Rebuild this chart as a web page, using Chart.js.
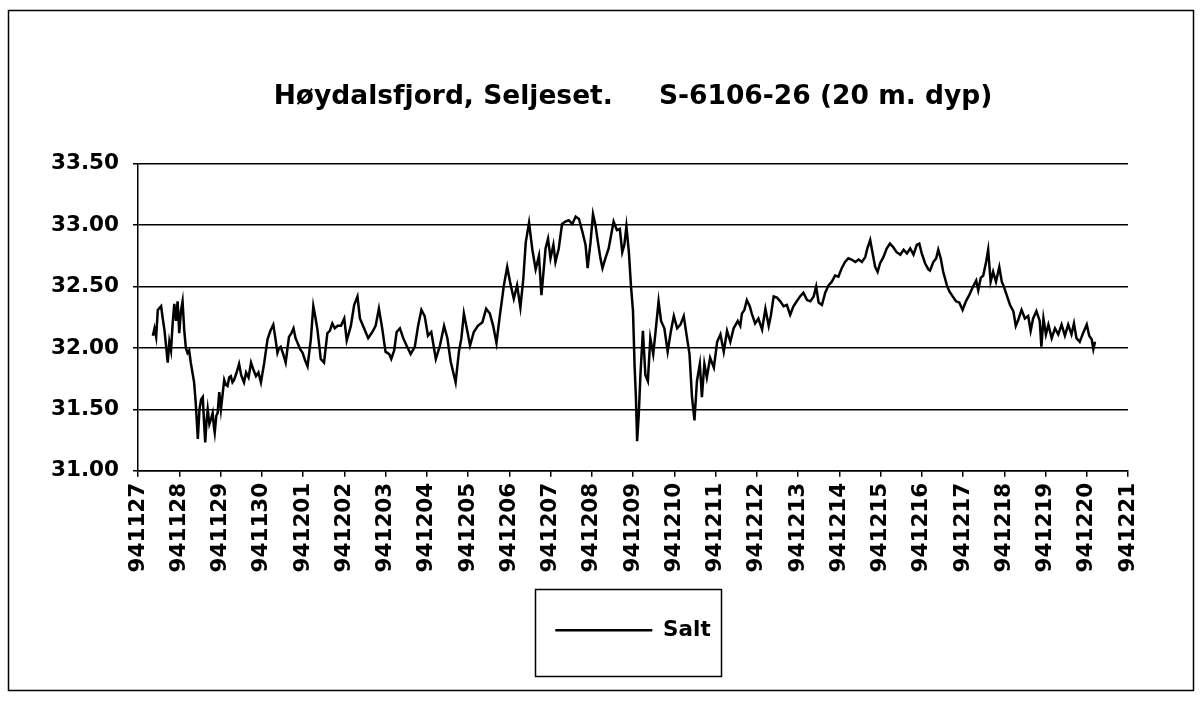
<!DOCTYPE html>
<html>
<head>
<meta charset="utf-8">
<title>Høydalsfjord, Seljeset</title>
<script src="https://cdn.jsdelivr.net/npm/chart.js@4.4.1/dist/chart.umd.min.js"></script>
<style>
  body { margin: 0; background: #fff; }
</style>
</head>
<body>
<canvas id="saltChart" width="1202" height="701"></canvas>
<script>
// day labels on the x axis (yymmdd), one per day from 941127
const dayLabels = ["941127", "941128", "941129", "941130", "941201", "941202", "941203",
  "941204", "941205", "941206", "941207", "941208", "941209", "941210", "941211",
  "941212", "941213", "941214", "941215", "941216", "941217", "941218", "941219",
  "941220", "941221"];

const yTicks = [31.0, 31.5, 32.0, 32.5, 33.0, 33.5];

// time of each reading, days after 941127 00:00
const days = [
  0.36, 0.40, 0.44, 0.48, 0.56, 0.60, 0.64, 0.68, 0.72, 0.76, 0.80, 0.84, 0.88, 0.92, 0.96,
  1.00, 1.04, 1.08, 1.12, 1.16, 1.20, 1.24, 1.28, 1.36, 1.40, 1.45, 1.49, 1.53, 1.57, 1.60,
  1.63, 1.66, 1.69, 1.73, 1.77, 1.81, 1.84, 1.86, 1.90, 1.93, 1.97, 2.01, 2.05, 2.09, 2.13,
  2.17, 2.21, 2.25, 2.29, 2.33, 2.39, 2.45, 2.50, 2.57, 2.62, 2.68, 2.74, 2.80, 2.86, 2.92,
  2.98, 3.06, 3.14, 3.21, 3.28, 3.33, 3.38, 3.42, 3.46, 3.52, 3.58, 3.66, 3.72, 3.77, 3.82,
  3.87, 3.93, 3.99, 4.05, 4.11, 4.19, 4.25, 4.30, 4.35, 4.43, 4.51, 4.59, 4.65, 4.71, 4.77,
  4.84, 4.92, 5.00, 5.06, 5.16, 5.24, 5.32, 5.38, 5.48, 5.58, 5.68, 5.76, 5.84, 5.92, 6.00,
  6.09, 6.14, 6.21, 6.27, 6.35, 6.43, 6.51, 6.61, 6.71, 6.79, 6.87, 6.95, 7.03, 7.11, 7.22,
  7.32, 7.42, 7.50, 7.58, 7.70, 7.78, 7.84, 7.90, 7.97, 8.05, 8.14, 8.24, 8.35, 8.44, 8.53,
  8.61, 8.69, 8.77, 8.87, 8.95, 9.03, 9.11, 9.19, 9.27, 9.34, 9.40, 9.48, 9.56, 9.64, 9.72,
  9.78, 9.88, 9.94, 10.00, 10.07, 10.12, 10.20, 10.28, 10.36, 10.44, 10.53, 10.61, 10.69, 10.77, 10.85,
  10.90, 10.97, 11.03, 11.09, 11.15, 11.21, 11.26, 11.33, 11.41, 11.47, 11.53, 11.61, 11.68, 11.74, 11.79,
  11.84, 11.90, 11.95, 12.00, 12.04, 12.07, 12.10, 12.14, 12.18, 12.24, 12.30, 12.36, 12.42, 12.49, 12.54,
  12.62, 12.68, 12.76, 12.84, 12.92, 12.99, 13.07, 13.15, 13.23, 13.31, 13.37, 13.43, 13.49, 13.55, 13.62,
  13.67, 13.73, 13.79, 13.87, 13.96, 14.04, 14.12, 14.20, 14.28, 14.36, 14.44, 14.54, 14.60, 14.64, 14.70,
  14.76, 14.83, 14.88, 14.96, 15.04, 15.13, 15.21, 15.29, 15.34, 15.41, 15.49, 15.57, 15.65, 15.73, 15.81,
  15.89, 15.97, 16.05, 16.13, 16.22, 16.30, 16.38, 16.44, 16.50, 16.58, 16.66, 16.74, 16.82, 16.90, 16.98,
  17.06, 17.14, 17.22, 17.30, 17.39, 17.47, 17.55, 17.63, 17.68, 17.75, 17.81, 17.87, 17.93, 17.99, 18.07,
  18.15, 18.23, 18.31, 18.39, 18.48, 18.56, 18.64, 18.72, 18.80, 18.88, 18.94, 19.00, 19.08, 19.16, 19.20,
  19.28, 19.35, 19.40, 19.46, 19.52, 19.61, 19.67, 19.75, 19.83, 19.91, 19.99, 20.07, 20.15, 20.23, 20.32,
  20.37, 20.43, 20.49, 20.56, 20.61, 20.67, 20.73, 20.80, 20.88, 20.94, 20.99, 21.06, 21.14, 21.22, 21.28,
  21.34, 21.42, 21.50, 21.58, 21.64, 21.70, 21.78, 21.86, 21.90, 21.95, 22.01, 22.07, 22.15, 22.23, 22.31,
  22.39, 22.47, 22.55, 22.63, 22.69, 22.75, 22.83, 22.91, 23.00, 23.06, 23.12, 23.16, 23.20
];

// salinity at 20 m depth
const salt = [
  32.10, 32.16, 32.09, 32.31, 32.34, 32.24, 32.15, 32.02, 31.88, 32.05, 31.98, 32.20, 32.36, 32.22, 32.38,
  32.12, 32.30, 32.38, 32.15, 32.00, 31.96, 31.98, 31.88, 31.72, 31.55, 31.26, 31.50, 31.58, 31.60, 31.40,
  31.23, 31.40, 31.50, 31.38, 31.42, 31.47, 31.36, 31.31, 31.45, 31.47, 31.64, 31.50, 31.62, 31.74, 31.70,
  31.69, 31.76, 31.77, 31.72, 31.74, 31.80, 31.87, 31.78, 31.72, 31.80, 31.76, 31.88, 31.82, 31.77, 31.80,
  31.72, 31.88, 32.07, 32.14, 32.19, 32.08, 31.96, 32.00, 32.01, 31.95, 31.88, 32.09, 32.12, 32.16, 32.08,
  32.04, 31.99, 31.96, 31.90, 31.85, 32.07, 32.34, 32.25, 32.15, 31.91, 31.88, 32.12, 32.14, 32.20, 32.16,
  32.18, 32.18, 32.24, 32.06, 32.18, 32.35, 32.42, 32.24, 32.16, 32.08, 32.13, 32.18, 32.32, 32.16, 31.97,
  31.95, 31.91, 31.98, 32.13, 32.16, 32.08, 32.02, 31.95, 32.01, 32.18, 32.31, 32.26, 32.10, 32.13, 31.91,
  32.02, 32.18, 32.08, 31.89, 31.72, 31.97, 32.08, 32.28, 32.16, 32.02, 32.13, 32.18, 32.21, 32.32, 32.28,
  32.18, 32.04, 32.26, 32.51, 32.66, 32.52, 32.40, 32.51, 32.33, 32.56, 32.86, 33.02, 32.80, 32.64, 32.75,
  32.43, 32.81, 32.89, 32.73, 32.84, 32.70, 32.81, 33.01, 33.03, 33.04, 33.01, 33.07, 33.05, 32.95, 32.84,
  32.65, 32.86, 33.09, 33.00, 32.86, 32.73, 32.65, 32.73, 32.81, 32.92, 33.03, 32.96, 32.97, 32.78, 32.84,
  32.99, 32.78, 32.51, 32.30, 31.84, 31.60, 31.24, 31.46, 31.78, 32.14, 31.78, 31.73, 32.08, 31.95, 32.11,
  32.38, 32.22, 32.16, 31.97, 32.14, 32.26, 32.16, 32.19, 32.26, 32.08, 31.95, 31.60, 31.41, 31.73, 31.87,
  31.60, 31.87, 31.76, 31.92, 31.84, 32.05, 32.11, 31.97, 32.14, 32.05, 32.16, 32.22, 32.18, 32.28, 32.31,
  32.39, 32.34, 32.28, 32.20, 32.24, 32.15, 32.32, 32.18, 32.26, 32.42, 32.41, 32.38, 32.34, 32.35, 32.27,
  32.34, 32.38, 32.42, 32.45, 32.39, 32.38, 32.42, 32.50, 32.37, 32.35, 32.45, 32.51, 32.54, 32.59, 32.58,
  32.65, 32.70, 32.73, 32.72, 32.70, 32.72, 32.70, 32.74, 32.81, 32.88, 32.77, 32.66, 32.62, 32.69, 32.74,
  32.81, 32.85, 32.82, 32.78, 32.76, 32.80, 32.77, 32.81, 32.76, 32.84, 32.85, 32.77, 32.69, 32.64, 32.63,
  32.70, 32.73, 32.80, 32.73, 32.62, 32.51, 32.46, 32.42, 32.38, 32.37, 32.31, 32.38, 32.43, 32.49, 32.55,
  32.47, 32.57, 32.59, 32.70, 32.80, 32.54, 32.62, 32.54, 32.66, 32.54, 32.50, 32.43, 32.35, 32.30, 32.18,
  32.23, 32.31, 32.24, 32.26, 32.14, 32.24, 32.30, 32.22, 32.01, 32.24, 32.11, 32.19, 32.08, 32.16, 32.11,
  32.19, 32.10, 32.19, 32.11, 32.20, 32.08, 32.05, 32.12, 32.19, 32.10, 32.07, 31.99, 32.05
];

const points = days.map((d, i) => ({ x: d, y: salt[i] }));

Chart.defaults.font.family = "'DejaVu Sans', sans-serif";
Chart.defaults.font.weight = "bold";
Chart.defaults.color = "#000";

// centre title and legend over the plot area instead of the whole canvas
const centreOnPlot = {
  id: "centreOnPlot",
  afterLayout(chart) {
    const a = chart.chartArea;
    for (const box of [chart.titleBlock, chart.legend]) {
      if (!box) continue;
      box.left = a.left;
      box.right = a.right;
      box.width = a.right - a.left;
    }
  }
};

// white page, outer frame and the box round the legend
const frames = {
  id: "frames",
  beforeDraw(chart) {
    const c = chart.ctx;
    c.save();
    c.fillStyle = "#fff";
    c.fillRect(0, 0, chart.width, chart.height);
    c.strokeStyle = "#000";
    c.lineWidth = 1.5;
    c.strokeRect(8.5, 10.5, 1185, 680);
    c.restore();
  },
  afterDraw(chart) {
    const hb = chart.legend.legendHitBoxes[0];
    if (!hb) return;
    const mid = hb.top + hb.height / 2;
    const c = chart.ctx;
    c.save();
    c.strokeStyle = "#000";
    c.lineWidth = 1.5;
    c.strokeRect(Math.round(hb.left - 20) + 0.5, Math.round(mid - 41) + 0.5, Math.round(hb.width + 31), 87);
    c.restore();
  }
};

new Chart(document.getElementById("saltChart"), {
  type: "line",
  data: {
    datasets: [
      {
        label: "Salt",
        data: points,
        borderColor: "#000",
        backgroundColor: "#000",
        borderWidth: 2.5,
        pointRadius: 0,
        tension: 0,
        fill: false,
      },
    ],
  },
  options: {
    responsive: false,
    animation: false,
    layout: { padding: { left: 37, right: 74, top: 0, bottom: 50 } },
    plugins: {
      title: {
        display: true,
        text: "Høydalsfjord, Seljeset.     S-6106-26 (20 m. dyp)",
        font: { size: 26.5, weight: "bold" },
        color: "#000",
        padding: { top: 81, bottom: 51 },
      },
      legend: {
        position: "bottom",
        labels: {
          usePointStyle: true,
          pointStyle: "line",
          pointStyleWidth: 97,
          padding: 41,
          font: { size: 21.5, weight: "bold" },
          color: "#000",
        },
      },
      tooltip: { enabled: false },
    },
    scales: {
      x: {
        type: "linear",
        min: 0,
        max: 24,
        border: { color: "#000", width: 1.5 },
        grid: { drawOnChartArea: false, drawTicks: true, tickLength: 6, color: "#000", lineWidth: 1.5 },
        ticks: {
          stepSize: 1,
          autoSkip: false,
          minRotation: 90,
          maxRotation: 90,
          padding: 6,
          font: { size: 21.5, weight: "bold" },
          callback: (v) => dayLabels[v],
        },
      },
      y: {
        min: yTicks[0],
        max: yTicks[yTicks.length - 1],
        afterBuildTicks: (scale) => { scale.ticks = yTicks.map((v) => ({ value: v })); },
        border: { color: "#000", width: 1.5 },
        grid: { color: "#000", lineWidth: 1.5, tickLength: 5 },
        ticks: {
          padding: 14,
          font: { size: 21.5, weight: "bold" },
          callback: (v) => v.toFixed(2),
        },
      },
    },
  },
  plugins: [centreOnPlot, frames],
});
</script>
</body>
</html>
